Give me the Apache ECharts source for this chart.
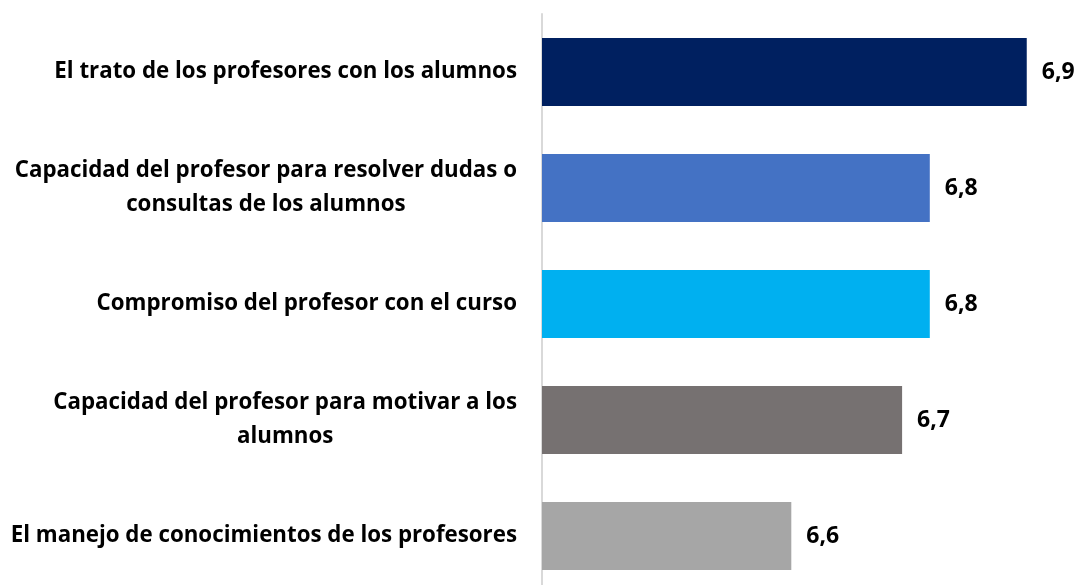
<!DOCTYPE html>
<html>
<head>
<meta charset="utf-8">
<script src="https://cdn.jsdelivr.net/npm/echarts@6/dist/echarts.min.js"></script>
<style>html,body{margin:0;padding:0;background:#fff;overflow:hidden}#c{width:1120px;height:600px}</style>
</head>
<body>
<div id="c"></div>
<script>
const categories = [
  "El trato de los profesores con los alumnos",
  "Capacidad del profesor para resolver dudas o\nconsultas de los alumnos",
  "Compromiso del profesor con el curso",
  "Capacidad del profesor para motivar a los\nalumnos",
  "El manejo de conocimientos de los profesores"
];
const values = [6.90, 6.76, 6.76, 6.72, 6.56];
const barColors = ["#002060", "#4472C4", "#00B0F0", "#767171", "#A6A6A6"];

const chart = echarts.init(document.getElementById('c'));
chart.setOption({
  animation: false,
  backgroundColor: '#ffffff',
  grid: { left: 542, top: 14, width: 554, height: 580, containLabel: false },
  xAxis: { type: 'value', min: 6.2, max: 7.0, show: false, splitLine: { show: false } },
  yAxis: {
    type: 'category', inverse: true, data: categories,
    axisLine: { show: true, lineStyle: { color: '#D9D9D9', width: 2 } },
    axisTick: { show: false },
    axisLabel: {
      margin: 25, color: '#000', fontFamily: 'Open Sans', fontWeight: 'bold', fontSize: 22.3,
      lineHeight: 34, align: 'right',
      formatter: v => v.split('\n').map(l => '{c|' + l + '}').join('\n'),
      rich: {
        c: { align: 'center', color: '#000', fontFamily: 'Open Sans', fontWeight: 'bold', fontSize: 22.3, lineHeight: 34 }
      }
    }
  },
  series: [{
    type: 'bar', barWidth: 68,
    data: values.map((v, i) => ({ value: v, itemStyle: { color: barColors[i] } })),
    label: {
      show: true, position: 'right', distance: 15, color: '#000',
      fontFamily: 'Open Sans', fontWeight: 'bold', fontSize: 23,
      formatter: p => p.value.toFixed(1).replace('.', ',')
    }
  }]
});
</script>
</body>
</html>
